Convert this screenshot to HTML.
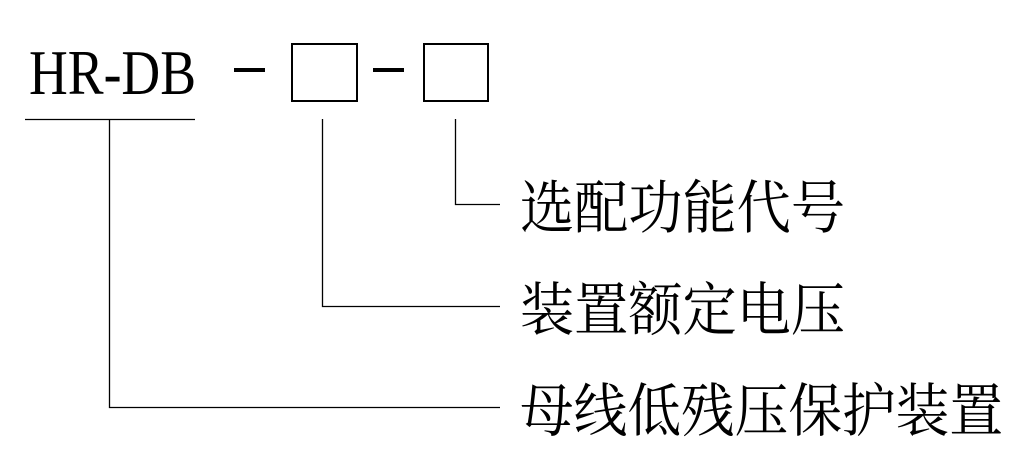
<!DOCTYPE html>
<html><head><meta charset="utf-8"><style>html,body{margin:0;padding:0;background:#fff}svg{display:block}</style></head>
<body>
<svg width="1026" height="466" xmlns="http://www.w3.org/2000/svg">
<g font-family="'Liberation Serif', serif" fill="#000">
<text x="29" y="94" font-size="64" textLength="167" lengthAdjust="spacingAndGlyphs">HR-DB</text>
</g>
<rect x="234" y="68" width="31" height="4" fill="#000"/>
<rect x="373" y="68" width="31" height="4" fill="#000"/>
<rect x="292" y="44" width="65" height="57" fill="none" stroke="#000" stroke-width="2"/>
<rect x="424" y="44" width="64" height="57" fill="none" stroke="#000" stroke-width="2"/>
<g stroke="#000" stroke-width="1.3" fill="none">
<line x1="25" y1="119.5" x2="195" y2="119.5"/>
<polyline points="109.5,119 109.5,407.5 500,407.5"/>
<polyline points="322.5,119 322.5,306.5 500,306.5"/>
<polyline points="455.5,119 455.5,204.5 500,204.5"/>
</g>
<g font-family="'Liberation Sans','Noto Serif CJK SC','Noto Sans CJK SC',serif" font-size="58" fill="#000">
<text x="520" y="228" textLength="325" lengthAdjust="spacingAndGlyphs">选配功能代号</text>
<text x="520" y="330" textLength="325" lengthAdjust="spacingAndGlyphs">装置额定电压</text>
<text x="520" y="431" textLength="483" lengthAdjust="spacingAndGlyphs">母线低残压保护装置</text>
</g>
</svg>
</body></html>
